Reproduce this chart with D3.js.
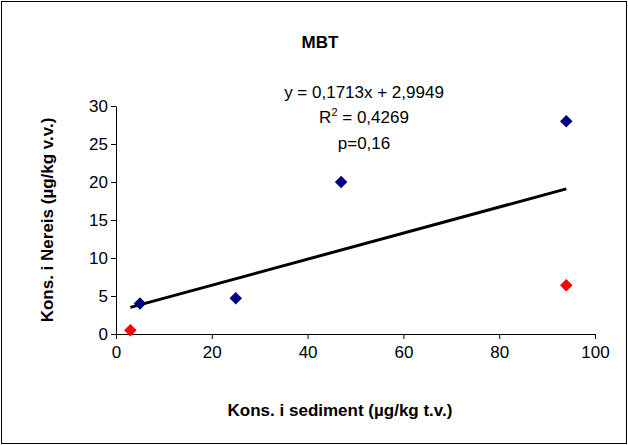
<!DOCTYPE html>
<html><head><meta charset="utf-8">
<script src="https://cdn.jsdelivr.net/npm/d3@7"></script>
<style>body{margin:0;background:#fff}svg{font-family:Arial,"Liberation Sans",sans-serif}</style>
</head><body>
<script>
const blueX = [5, 25, 47, 94];
const blueY = [4, 4.7, 20, 28];
const redX = [3, 94];
const redY = [0.5, 6.4];
const xTicks = [0, 20, 40, 60, 80, 100];
const yTicks = [0, 5, 10, 15, 20, 25, 30];
const slope = 0.1713, intercept = 2.9949;
const trendRange = [3, 94];

const width = 628, height = 445;
const x = d3.scaleLinear([0, 100], [116, 595]);
const y = d3.scaleLinear([0, 30], [334, 106]);

const svg = d3.select("body").append("svg").attr("width", width).attr("height", height);
svg.append("rect").attr("x", 1.5).attr("y", 1.5).attr("width", width - 3).attr("height", height - 3)
  .attr("fill", "#fff").attr("stroke", "#000");

svg.append("g").attr("transform", `translate(0,${y(0)})`)
  .call(d3.axisBottom(x).tickValues(xTicks).tickSize(5).tickSizeOuter(0))
  .call(g => g.selectAll("text").attr("font-size", 17).attr("dy", "0.95em"));
svg.append("g").attr("transform", `translate(${x(0)},0)`)
  .call(d3.axisLeft(y).tickValues(yTicks).tickSize(5).tickSizeOuter(0))
  .call(g => g.selectAll("text").attr("font-size", 17));
svg.selectAll(".domain, .tick line").attr("stroke", "#000");

svg.append("line")
  .attr("x1", x(trendRange[0])).attr("y1", y(slope * trendRange[0] + intercept))
  .attr("x2", x(trendRange[1])).attr("y2", y(slope * trendRange[1] + intercept))
  .attr("stroke", "#000").attr("stroke-width", 3);

const diamond = d3.symbol(d3.symbolDiamond2, 100);
function pts(xs, ys, c) {
  svg.append("g").selectAll("path").data(xs).join("path")
    .attr("d", diamond).attr("fill", c)
    .attr("transform", (d, i) => `translate(${x(d)},${y(ys[i])})`);
}
pts(blueX, blueY, "#000080");
pts(redX, redY, "#ff0000");

svg.append("text").attr("x", 320).attr("y", 48).attr("text-anchor", "middle")
  .attr("font-size", 17).attr("font-weight", "bold").text("MBT");
const t = svg.append("g").attr("font-size", 17).attr("text-anchor", "middle");
t.append("text").attr("x", 364).attr("y", 98).text("y = 0,1713x + 2,9949");
const r = t.append("text").attr("x", 364).attr("y", 123);
r.append("tspan").text("R");
r.append("tspan").attr("font-size", 11).attr("dy", -7).text("2");
r.append("tspan").attr("dy", 7).text(" = 0,4269");
t.append("text").attr("x", 364).attr("y", 149).text("p=0,16");

svg.append("text").attr("x", 340).attr("y", 416).attr("text-anchor", "middle")
  .attr("font-size", 17).attr("font-weight", "bold").text("Kons. i sediment (µg/kg t.v.)");
svg.append("text").attr("transform", "translate(53,220) rotate(-90)").attr("text-anchor", "middle")
  .attr("font-size", 17).attr("font-weight", "bold").text("Kons. i Nereis (µg/kg v.v.)");
</script>
</body></html>
